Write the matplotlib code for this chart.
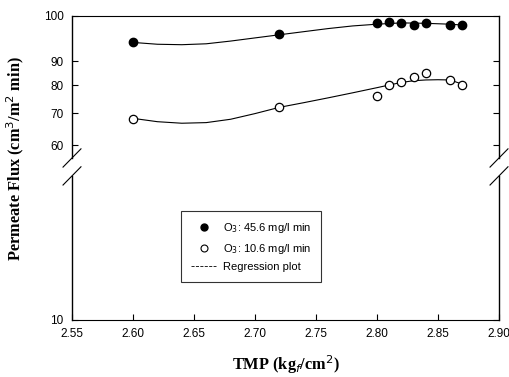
import numpy as np
import matplotlib
matplotlib.use("Agg")
import matplotlib.pyplot as plt
from matplotlib.lines import Line2D
from matplotlib.ticker import FixedLocator, FixedFormatter

# measured points
tmp = [2.60, 2.72, 2.80, 2.81, 2.82, 2.83, 2.84, 2.86, 2.87]
flux_high = [94.0, 95.8, 98.3, 98.7, 98.3, 97.9, 98.4, 97.9, 97.9]
flux_low = [68.0, 72.1, 76.0, 80.0, 81.1, 83.1, 85.0, 82.0, 80.0]

# regression curves
reg_x_high = [2.60, 2.62, 2.64, 2.66, 2.68, 2.70, 2.72, 2.74, 2.76, 2.78, 2.80, 2.82, 2.84, 2.86, 2.87]
reg_y_high = [94.0, 93.6, 93.5, 93.7, 94.3, 95.0, 95.7, 96.4, 97.1, 97.7, 98.1, 98.4, 98.3, 98.1, 97.9]
reg_x_low = [2.60, 2.62, 2.64, 2.66, 2.68, 2.70, 2.72, 2.74, 2.76, 2.78, 2.80, 2.81, 2.82, 2.83, 2.84, 2.85, 2.86, 2.87]
reg_y_low = [68.3, 67.2, 66.7, 66.9, 68.0, 69.9, 72.0, 73.6, 75.3, 77.1, 79.0, 80.0, 81.0, 81.7, 82.0, 82.1, 82.0, 80.3]

yticks = [10, 60, 70, 80, 90, 100]
xticks = [2.55, 2.60, 2.65, 2.70, 2.75, 2.80, 2.85, 2.90]

# broken, stretched log axis (knots in log10 -> screen units)
knot_log = np.log10([10, 60, 70, 80, 90, 100])
knot_pos = np.array([0, 175, 206.7, 235, 259, 304])


def fwd(y):
    y = np.maximum(np.asarray(y, dtype=float), 1e-3)
    return np.interp(np.log10(y), knot_log, knot_pos, left=-50, right=354)


def inv(p):
    p = np.asarray(p, dtype=float)
    return 10 ** np.interp(p, knot_pos, knot_log)


plt.rcParams['font.family'] = 'Liberation Sans'
fig = plt.figure(figsize=(5.1, 3.77), dpi=100)
ax = fig.add_axes([72/510, 1-320/377, 427/510, 304/377])
ax.set_yscale('function', functions=(fwd, inv))
ax.set_xlim(2.55, 2.90)
ax.set_ylim(10, 100)

ax.plot(reg_x_high, reg_y_high, color='black', lw=0.8)
ax.plot(reg_x_low, reg_y_low, color='black', lw=0.8)
ax.plot(tmp, flux_high, 'o', color='black', ms=6, zorder=3)
ax.plot(tmp, flux_low, 'o', mfc='white', mec='black', mew=0.9, ms=6, zorder=3)

ax.yaxis.set_major_locator(FixedLocator(yticks))
ax.yaxis.set_major_formatter(FixedFormatter([str(v) for v in yticks]))
ax.yaxis.set_minor_locator(FixedLocator([]))
ax.set_xticks(xticks)
ax.set_xticklabels(['%.2f' % v for v in xticks])
ax.tick_params(direction='in', length=4, width=0.8, labelsize=8.5, pad=6)
ax.tick_params(axis='y', right=True)

# spines with break marks
ax.spines['left'].set_visible(False)
ax.spines['right'].set_visible(False)
for sx in (0, 1):
    ax.plot([sx, sx], [0.533, 1], color='black', lw=1, transform=ax.transAxes, clip_on=False)
    ax.plot([sx, sx], [0, 0.474], color='black', lw=1, transform=ax.transAxes, clip_on=False)
    for cy in (0.533, 0.474):
        ax.plot([sx-0.021, sx+0.021], [cy-0.03, cy+0.03], color='black', lw=0.8,
                transform=ax.transAxes, clip_on=False)

ax.set_xlabel('TMP (kg$_f$/cm$^2$)', fontfamily='Liberation Serif', fontweight='bold',
              fontsize=11.8, labelpad=9)
ax.set_ylabel('Permeate Flux (cm$^3$/m$^2$ min)', fontfamily='Liberation Serif',
              fontweight='bold', fontsize=11.8)
ax.yaxis.set_label_coords(-0.108, 0.53)

handles = [
    Line2D([], [], marker='o', ls='none', color='black', ms=5),
    Line2D([], [], marker='o', ls='none', mfc='white', mec='black', mew=0.8, ms=5),
    Line2D([], [], color='black', ls='--', lw=0.6),
]
labels = ['O$_3$: 45.6 mg/l min', 'O$_3$: 10.6 mg/l min', 'Regression plot']
leg = ax.legend(handles, labels, loc='upper left', bbox_to_anchor=(0.255, 0.359),
                fontsize=8, frameon=True, fancybox=False, edgecolor='black',
                handlelength=2.3, handletextpad=0.6, labelspacing=0.6,
                borderpad=0.9, borderaxespad=0)
leg.get_frame().set_linewidth(0.8)

fig.savefig('out.png', dpi=100)
